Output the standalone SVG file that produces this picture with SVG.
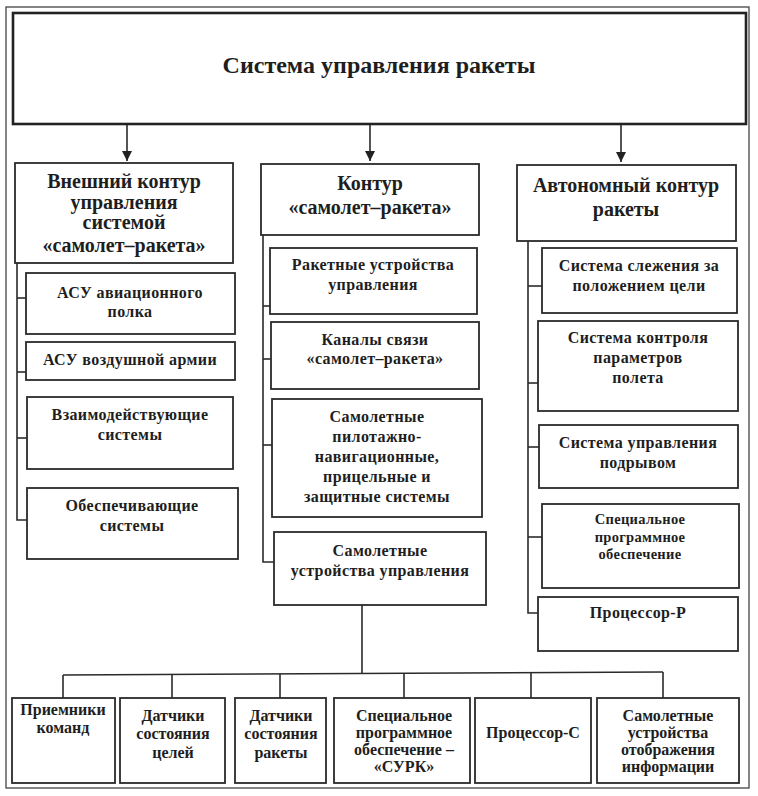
<svg xmlns="http://www.w3.org/2000/svg" width="758" height="796" viewBox="0 0 758 796">
<defs>
<style>
.bg{fill:#fff}
.frame{fill:none;stroke:#444;stroke-width:1.3}
.top{fill:#fff;stroke:#222;stroke-width:2.6}
.box{fill:#fff;stroke:#2a2a2a;stroke-width:1.8}
.ln{fill:none;stroke:#2a2a2a;stroke-width:1.6}
text{font-family:"Liberation Serif","Times New Roman",serif;font-weight:bold;fill:#1e1e1e;text-anchor:middle}
.t0{font-size:24px}
.t1{font-size:20px}
.t2{font-size:16px;letter-spacing:0.4px}
.t3{font-size:14.5px;letter-spacing:0.3px}
.t4{font-size:16px}
</style>
<marker id="ah" viewBox="0 0 10 10" refX="10" refY="5" markerWidth="10" markerHeight="10" markerUnits="userSpaceOnUse" orient="auto">
<path d="M0,0 L10,5 L0,10 Z" fill="#222"/>
</marker>
</defs>
<rect class="bg" x="0" y="0" width="758" height="796"/>
<rect class="frame" x="6" y="7" width="743" height="781"/>

<g id="connectors">
<line class="ln" x1="127" y1="124" x2="127" y2="161" marker-end="url(#ah)"/>
<line class="ln" x1="370" y1="124" x2="370" y2="161" marker-end="url(#ah)"/>
<line class="ln" x1="621" y1="124" x2="621" y2="162" marker-end="url(#ah)"/>
<polyline class="ln" points="17,263 17,520 27,520"/>
<line class="ln" x1="17" y1="298" x2="26" y2="298"/>
<line class="ln" x1="17" y1="372" x2="26" y2="372"/>
<line class="ln" x1="17" y1="438" x2="27" y2="438"/>
<polyline class="ln" points="263,235 263,562 274,562"/>
<line class="ln" x1="263" y1="306" x2="270" y2="306"/>
<line class="ln" x1="263" y1="359" x2="271" y2="359"/>
<line class="ln" x1="263" y1="445" x2="272" y2="445"/>
<polyline class="ln" points="528,241 528,613 538,613"/>
<line class="ln" x1="528" y1="286" x2="542" y2="286"/>
<line class="ln" x1="528" y1="383" x2="538" y2="383"/>
<line class="ln" x1="528" y1="447" x2="539" y2="447"/>
<line class="ln" x1="528" y1="537" x2="542" y2="537"/>
<line class="ln" x1="362" y1="605" x2="362" y2="674"/>
<line class="ln" x1="63" y1="675" x2="663" y2="672"/>
<line class="ln" x1="63" y1="675" x2="63" y2="698"/>
<line class="ln" x1="172" y1="674" x2="172" y2="698"/>
<line class="ln" x1="280" y1="674" x2="280" y2="698"/>
<line class="ln" x1="404" y1="673" x2="404" y2="698"/>
<line class="ln" x1="531" y1="673" x2="531" y2="698"/>
<line class="ln" x1="663" y1="672" x2="663" y2="698"/>
</g>

<g id="root">
<rect class="top" x="13" y="13" width="733" height="111"/>
<text class="t0" x="379" y="73">Система управления ракеты</text>
</g>

<g id="outer-loop">
<rect class="box" x="15" y="163" width="218" height="100"/>
<text class="t1" x="124" y="188">Внешний контур</text>
<text class="t1" x="124" y="209">управления</text>
<text class="t1" x="124" y="229">системой</text>
<text class="t1" x="124" y="252">«самолет–ракета»</text>
</g>
<g id="asu-regiment">
<rect class="box" x="26" y="273" width="209" height="61"/>
<text class="t2" x="130" y="298">АСУ авиационного</text>
<text class="t2" x="130" y="317">полка</text>
</g>
<g id="asu-army">
<rect class="box" x="26" y="342" width="209" height="38"/>
<text class="t2" x="130" y="365">АСУ воздушной армии</text>
</g>
<g id="interacting">
<rect class="box" x="27" y="397" width="206" height="72"/>
<text class="t2" x="130" y="420">Взаимодействующие</text>
<text class="t2" x="130" y="440">системы</text>
</g>
<g id="supporting">
<rect class="box" x="27" y="488" width="211" height="71"/>
<text class="t2" x="132" y="511">Обеспечивающие</text>
<text class="t2" x="132" y="531">системы</text>
</g>

<g id="plane-missile-loop">
<rect class="box" x="261" y="164" width="218" height="71"/>
<text class="t1" x="370" y="190">Контур</text>
<text class="t1" x="370" y="214">«самолет–ракета»</text>
</g>
<g id="missile-control-devices">
<rect class="box" x="270" y="248" width="207" height="66"/>
<text class="t2" x="373" y="270">Ракетные устройства</text>
<text class="t2" x="373" y="290">управления</text>
</g>
<g id="comm-channels">
<rect class="box" x="271" y="322" width="208" height="67"/>
<text class="t2" x="375" y="345">Каналы связи</text>
<text class="t2" x="375" y="364">«самолет–ракета»</text>
</g>
<g id="aircraft-systems">
<rect class="box" x="272" y="399" width="210" height="118"/>
<text class="t2" x="377" y="422">Самолетные</text>
<text class="t2" x="377" y="442">пилотажно-</text>
<text class="t2" x="377" y="462">навигационные,</text>
<text class="t2" x="377" y="482">прицельные и</text>
<text class="t2" x="377" y="502">защитные  системы</text>
</g>
<g id="aircraft-control-devices">
<rect class="box" x="274" y="532" width="212" height="73"/>
<text class="t2" x="380" y="556">Самолетные</text>
<text class="t2" x="380" y="576">устройства управления</text>
</g>

<g id="autonomous-loop">
<rect class="box" x="517" y="165" width="219" height="76"/>
<text class="t1" x="626" y="192">Автономный контур</text>
<text class="t1" x="626" y="216">ракеты</text>
</g>
<g id="target-tracking">
<rect class="box" x="542" y="248" width="195" height="65"/>
<text class="t2" x="639" y="271">Система слежения за</text>
<text class="t2" x="639" y="291">положением цели</text>
</g>
<g id="flight-params">
<rect class="box" x="538" y="321" width="200" height="90"/>
<text class="t2" x="638" y="343">Система контроля</text>
<text class="t2" x="638" y="363">параметров</text>
<text class="t2" x="638" y="383">полета</text>
</g>
<g id="detonation">
<rect class="box" x="539" y="425" width="199" height="63"/>
<text class="t2" x="638" y="448">Система управления</text>
<text class="t2" x="638" y="468">подрывом</text>
</g>
<g id="special-software">
<rect class="box" x="542" y="504" width="197" height="84"/>
<text class="t3" x="640" y="524">Специальное</text>
<text class="t3" x="640" y="542">программное</text>
<text class="t3" x="640" y="559">обеспечение</text>
</g>
<g id="processor-r">
<rect class="box" x="538" y="597" width="200" height="54"/>
<text class="t2" x="638" y="618">Процессор-Р</text>
</g>

<g id="cmd-receivers">
<rect class="box" x="12" y="698" width="103" height="85"/>
<text class="t4" x="63" y="715">Приемники</text>
<text class="t4" x="63" y="733">команд</text>
</g>
<g id="target-sensors">
<rect class="box" x="120" y="698" width="105" height="85"/>
<text class="t4" x="173" y="721">Датчики</text>
<text class="t4" x="173" y="739">состояния</text>
<text class="t4" x="173" y="758">целей</text>
</g>
<g id="missile-sensors">
<rect class="box" x="235" y="698" width="91" height="85"/>
<text class="t4" x="281" y="721">Датчики</text>
<text class="t4" x="281" y="739">состояния</text>
<text class="t4" x="281" y="758">ракеты</text>
</g>
<g id="surk">
<rect class="box" x="334" y="698" width="136" height="85"/>
<text class="t4" x="404" y="721">Специальное</text>
<text class="t4" x="404" y="738">программное</text>
<text class="t4" x="404" y="755">обеспечение –</text>
<text class="t4" x="404" y="772">«СУРК»</text>
</g>
<g id="processor-c">
<rect class="box" x="475" y="698" width="116" height="85"/>
<text class="t4" x="533" y="738">Процессор-С</text>
</g>
<g id="display-devices">
<rect class="box" x="597" y="698" width="142" height="85"/>
<text class="t4" x="668" y="721">Самолетные</text>
<text class="t4" x="668" y="738">устройства</text>
<text class="t4" x="668" y="755">отображения</text>
<text class="t4" x="668" y="772">информации</text>
</g>
</svg>
